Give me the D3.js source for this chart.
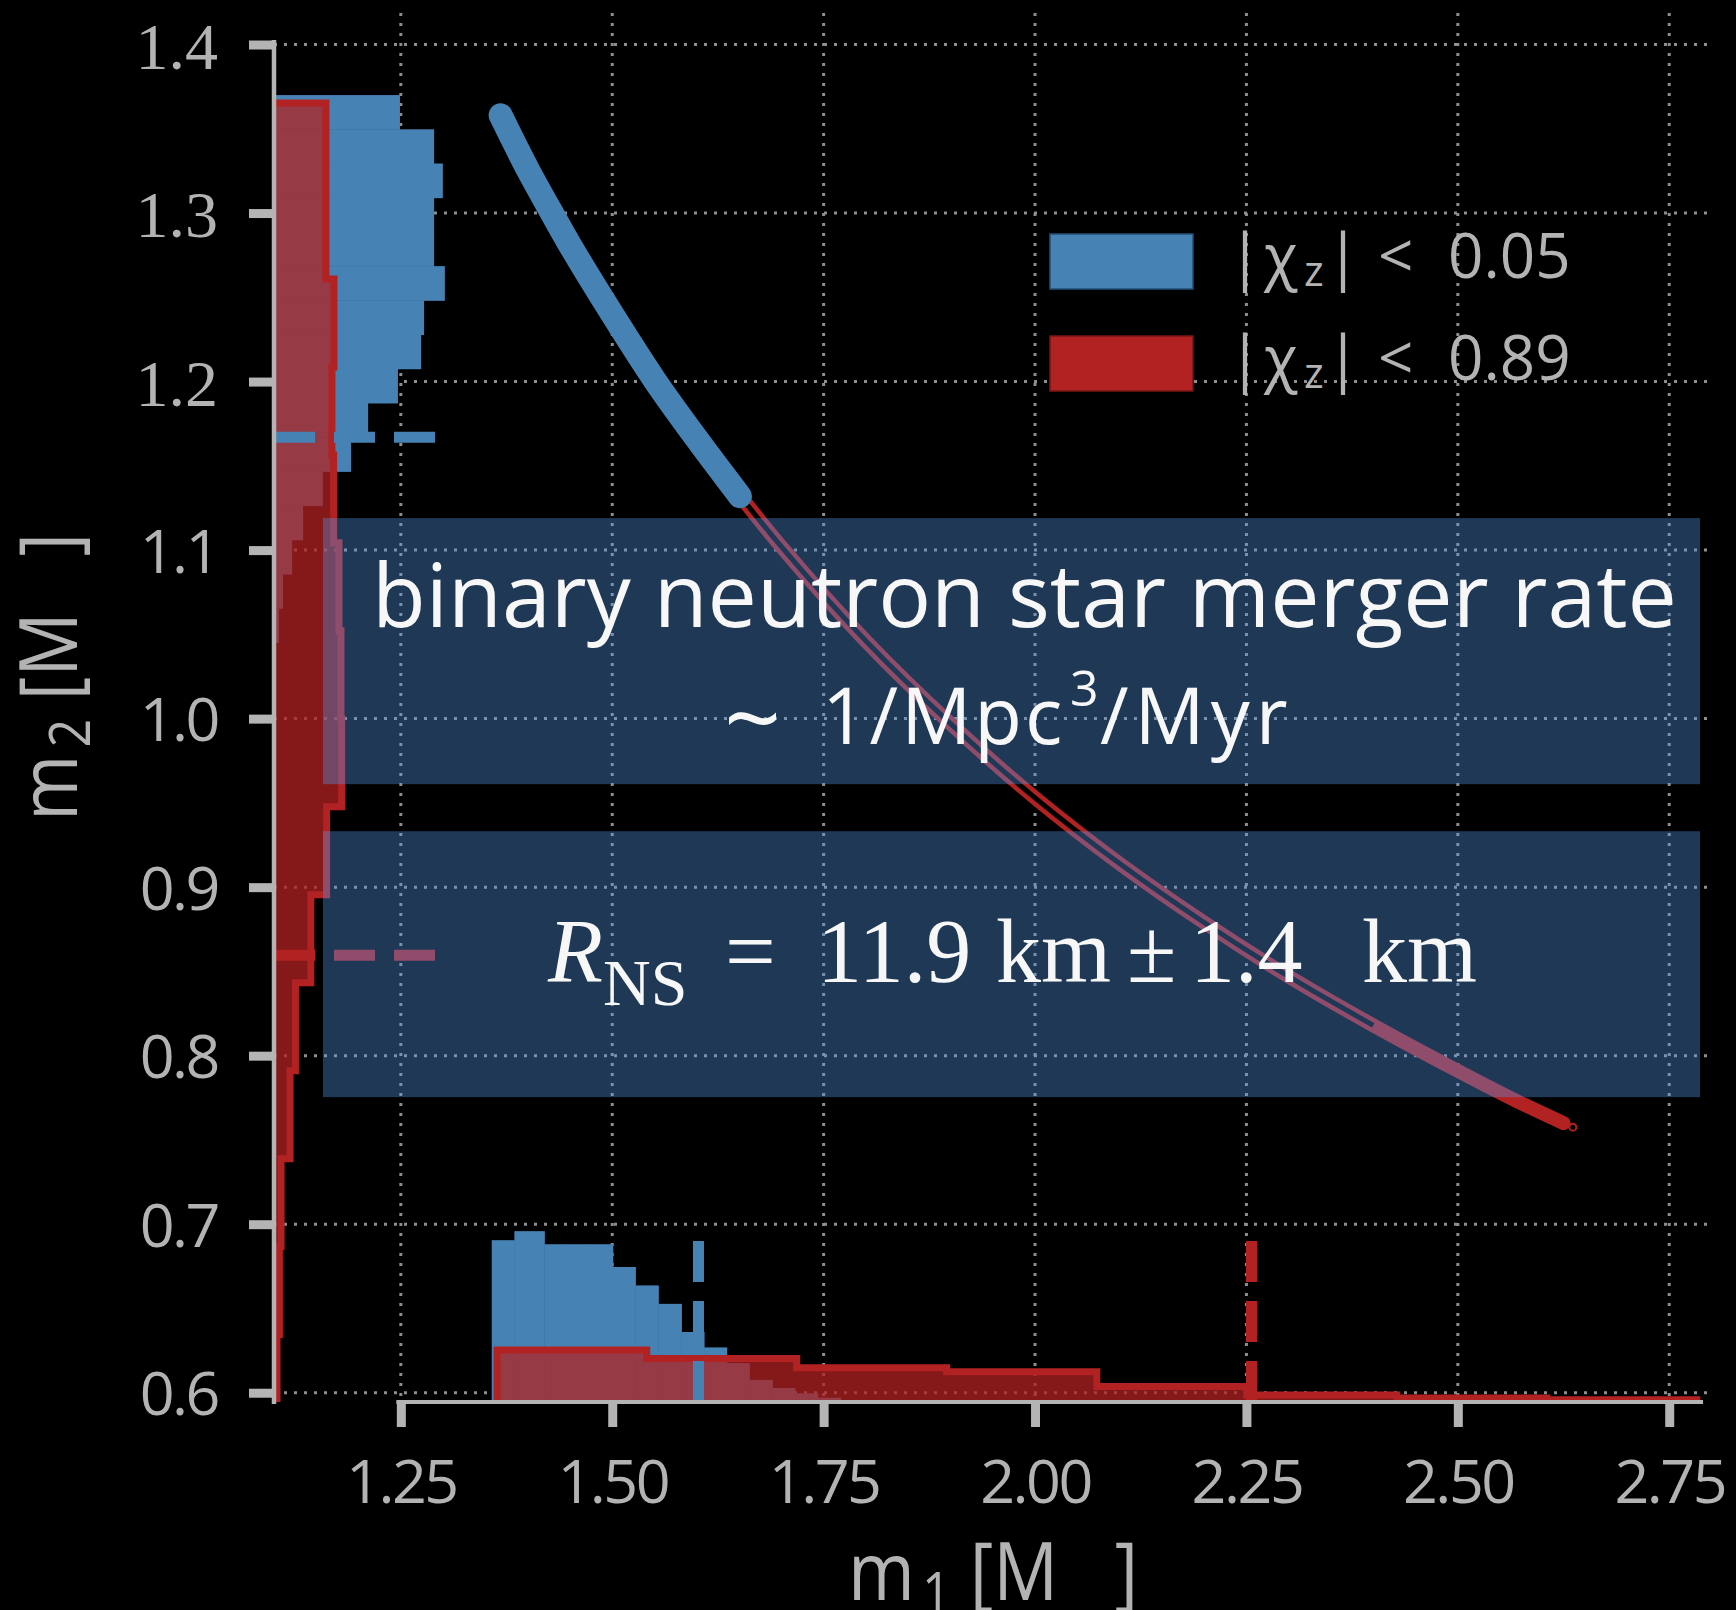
<!DOCTYPE html>
<html><head><meta charset="utf-8">
<script src="https://cdn.jsdelivr.net/npm/d3@7/dist/d3.min.js"></script>
<style>
html,body{margin:0;padding:0;background:#000;}
svg{display:block;}
</style></head><body>
<svg id="chart" width="1736" height="1610"></svg>
<script>
// ---------------- data ----------------
const m1Domain = [1.1, 2.8];
const m2Domain = [0.5945, 1.4187];
const xTicks = [1.25, 1.50, 1.75, 2.00, 2.25, 2.50, 2.75];
const yTicks = [0.6, 0.7, 0.8, 0.9, 1.0, 1.1, 1.2, 1.3, 1.4];
const seriesNames = ["\u03c7", "\u03c7"];
const seriesBounds = ["0.05", "0.89"];

// marginal of m1, |chi_z| < 0.05 (probability density)
const m1BlueEdges = [1.3575,1.3843,1.4197,1.4465,1.4737,1.5006,1.5274,1.5545,1.5818,1.6086,1.6354,1.6622,1.6894,1.7162,1.7430,1.7702,1.7970];
const m1BlueDensity = [4.83,5.10,4.71,4.71,4.71,4.03,3.48,2.93,2.09,1.63,1.16,0.66,0.42,0.26,0.13,0.06];
// marginal of m1, |chi_z| < 0.89
const m1RedEdges = [1.3638,1.5408,1.7182,1.8956,2.0730,2.2504,2.4278,2.6052,2.7826];
const m1RedDensity = [1.55,1.30,1.02,0.90,0.46,0.21,0.12,0.07];
// marginal of m2, |chi_z| < 0.05 (edges from top to bottom)
const m2BlueEdges = [1.3700,1.3497,1.3294,1.3091,1.2888,1.2685,1.2482,1.2279,1.2076,1.1873,1.1670,1.1467,1.1264,1.1061,1.0858,1.0655,1.0452,1.0249];
const m2BlueDensity = [3.76,4.78,5.04,4.78,4.78,5.10,4.48,4.39,3.70,2.81,2.30,1.46,0.87,0.54,0.27,0.15,0.06];
// marginal of m2, |chi_z| < 0.89
const m2RedEdges = [1.3653,1.3131,1.2609,1.2087,1.1565,1.1043,1.0521,0.9999,0.9477,0.8955,0.8433,0.7911,0.7389,0.6867,0.6345,0.5823];
const m2RedDensity = [1.55,1.55,1.79,1.73,1.78,1.94,2.00,2.02,1.57,1.10,0.64,0.48,0.21,0.16,0.09];

// 90% bounds (dashed lines)
const boundM1 = [1.602, 2.256];
const boundM2 = [1.167, 0.8596];
const boundDensity = 4.806;

// posterior samples along the chirp-mass curve (m1, m2)
const curveBlue = [[1.368,1.358],[1.400,1.326],[1.4264,1.302],[1.450,1.281],[1.500,1.240],[1.550,1.201],[1.600,1.166],[1.651,1.132]];
const curveRed = [[1.625,1.149],[1.700,1.102],[1.800,1.046],[1.900,0.997],[2.000,0.953],[2.100,0.914],[2.200,0.879],[2.300,0.847],[2.400,0.818],[2.500,0.791],[2.570,0.773],[2.625,0.760]];
const redOutlier = [[2.636,0.7576]];

// annotation boxes in data units [m1 left, m1 right, m2 top, m2 bottom]
const box1 = [1.1579, 2.7864, 1.1190, 0.9611];
const box2 = [1.1579, 2.7864, 0.9332, 0.7754];

// ---------------- drawing ----------------
const W = 1736, H = 1610;
const BLUE = "#4682b4", RED = "#b22222";
const GREY = "#b3b3b3";
const SANS = "'Open Sans', 'Noto Sans', Lato, sans-serif";
const SERIF = "'Liberation Serif', 'DejaVu Serif', serif";

const svg = d3.select("#chart");
svg.append("rect").attr("width", W).attr("height", H).attr("fill", "#000");

const x = d3.scaleLinear().domain(m1Domain).range([274, 1711.5]);
const y = d3.scaleLinear().domain(m2Domain).range([1402, 13]);
const dens = d3.scaleLinear().domain([0, 1]).range([0, 33.5]);
const x0 = x(m1Domain[0]), yb = y(m2Domain[0]), yt = y(m2Domain[1]), xr = x(m1Domain[1]);

svg.append("clipPath").attr("id", "ax").append("rect")
  .attr("x", x0).attr("y", yt).attr("width", xr - x0).attr("height", yb - yt);

// grid
const grid = svg.append("g").attr("stroke", "#8e8e8e").attr("stroke-width", 3).attr("stroke-dasharray", "3,7");
grid.selectAll("line.gv").data(xTicks).join("line").attr("class", "gv")
  .attr("x1", d => x(d)).attr("x2", d => x(d)).attr("y1", yt).attr("y2", yb);
grid.selectAll("line.gh").data(yTicks).join("line").attr("class", "gh")
  .attr("x1", x0).attr("x2", xr).attr("y1", d => y(d)).attr("y2", d => y(d));

const hist = svg.append("g").attr("clip-path", "url(#ax)");

// blue marginals
hist.selectAll("rect.bm2").data(m2BlueDensity).join("rect").attr("class", "bm2")
  .attr("x", x0).attr("y", (d, i) => y(m2BlueEdges[i]))
  .attr("width", d => dens(d))
  .attr("height", (d, i) => y(m2BlueEdges[i + 1]) - y(m2BlueEdges[i]) + 0.5)
  .attr("fill", BLUE);
hist.selectAll("rect.bm1").data(m1BlueDensity).join("rect").attr("class", "bm1")
  .attr("x", (d, i) => x(m1BlueEdges[i])).attr("y", d => yb - dens(d))
  .attr("width", (d, i) => x(m1BlueEdges[i + 1]) - x(m1BlueEdges[i]) + 0.5)
  .attr("height", d => dens(d))
  .attr("fill", BLUE);

// red marginals (step outline + translucent fill)
const stepM2 = [[x0, y(m2RedEdges[0])]];
m2RedDensity.forEach((d, i) => {
  stepM2.push([x0 + dens(d), y(m2RedEdges[i])]);
  stepM2.push([x0 + dens(d), y(m2RedEdges[i + 1])]);
});
const fillM2 = stepM2.concat([[x0, y(m2RedEdges[m2RedEdges.length - 1])]]);
const stepM1 = [[x(m1RedEdges[0]), yb]];
m1RedDensity.forEach((d, i) => {
  stepM1.push([x(m1RedEdges[i]), yb - dens(d)]);
  stepM1.push([x(m1RedEdges[i + 1]), yb - dens(d)]);
});
stepM1.push([x(m1RedEdges[m1RedEdges.length - 1]), yb]);

const lineGen = d3.line();
hist.append("path").attr("d", lineGen(fillM2) + "Z").attr("fill", RED).attr("fill-opacity", 0.75);
hist.append("path").attr("d", lineGen(stepM1) + "Z").attr("fill", RED).attr("fill-opacity", 0.75);
hist.append("path").attr("d", lineGen(stepM2)).attr("fill", "none").attr("stroke", RED).attr("stroke-width", 7);
hist.append("path").attr("d", lineGen(stepM1)).attr("fill", "none").attr("stroke", RED).attr("stroke-width", 7);

// dashed bound lines
const dashCol = [BLUE, RED];
hist.selectAll("line.dv").data(boundM1).join("line").attr("class", "dv")
  .attr("x1", d => x(d)).attr("x2", d => x(d)).attr("y1", yb).attr("y2", yb - dens(boundDensity))
  .attr("stroke", (d, i) => dashCol[i]).attr("stroke-width", 11).attr("stroke-dasharray", "41,19");
hist.selectAll("line.dh").data(boundM2).join("line").attr("class", "dh")
  .attr("x1", x0).attr("x2", x0 + dens(boundDensity)).attr("y1", d => y(d)).attr("y2", d => y(d))
  .attr("stroke", (d, i) => dashCol[i]).attr("stroke-width", 11).attr("stroke-dasharray", "41,19");

// curves
const cLine = d3.line().x(d => x(d[0])).y(d => y(d[1])).curve(d3.curveCatmullRom);
hist.append("path").attr("d", cLine(curveRed)).attr("fill", "none")
  .attr("stroke", RED).attr("stroke-width", 14).attr("stroke-linecap", "round");
hist.append("path").attr("d", cLine(curveRed.filter(d => d[0] <= 2.40))).attr("fill", "none")
  .attr("stroke", "#000").attr("stroke-width", 5).attr("stroke-linecap", "butt");
hist.selectAll("circle.out").data(redOutlier).join("circle").attr("class", "out")
  .attr("cx", d => x(d[0])).attr("cy", d => y(d[1])).attr("r", 3.5)
  .attr("fill", "none").attr("stroke", RED).attr("stroke-width", 2);
hist.append("path").attr("d", cLine(curveBlue)).attr("fill", "none")
  .attr("stroke", BLUE).attr("stroke-width", 24).attr("stroke-linecap", "round");

// axes
const yAxis = d3.axisLeft(y).tickValues(yTicks).tickSize(25).tickPadding(31).tickFormat(d3.format(".1f"));
const gy = svg.append("g").attr("transform", `translate(${x0},0)`).call(yAxis);
gy.select(".domain").remove();
gy.selectAll(".tick line").attr("stroke", "#b4b4b4").attr("stroke-width", 9);
gy.selectAll(".tick text").attr("fill", GREY)
  .attr("font-family", d => d >= 1.2 ? SERIF : SANS)
  .attr("font-size", d => d >= 1.2 ? 66 : 61)
  .attr("letter-spacing", d => d >= 1.2 ? "0px" : "-2.5px")
  .attr("dy", "0.36em");

const xAxis = d3.axisBottom(x).tickValues(xTicks).tickSize(25).tickFormat(d3.format(".2f"));
const gx = svg.append("g").attr("transform", `translate(0,${yb})`).call(xAxis);
gx.select(".domain").remove();
gx.selectAll(".tick line").attr("stroke", "#b4b4b4").attr("stroke-width", 9);
gx.selectAll(".tick text").attr("fill", GREY).attr("font-family", SANS).attr("font-size", 61)
  .attr("letter-spacing", "-2.5px").attr("y", 79).attr("dy", "0.36em");

// spines
svg.append("line").attr("x1", x0).attr("x2", x0).attr("y1", y(1.4) - 4.5).attr("y2", yb + 2)
  .attr("stroke", "#b4b4b4").attr("stroke-width", 4.5);
svg.append("line").attr("x1", x(1.25) - 4.5).attr("x2", x(2.79)).attr("y1", yb).attr("y2", yb)
  .attr("stroke", "#b4b4b4").attr("stroke-width", 4);

// axis labels
const yl = svg.append("text").attr("transform", "translate(77,677) rotate(-90)")
  .attr("text-anchor", "middle").attr("font-family", SANS).attr("font-size", 80).attr("fill", GREY)
  .attr("textLength", 288).attr("lengthAdjust", "spacingAndGlyphs");
yl.append("tspan").text("m");
yl.append("tspan").attr("font-size", 56).attr("dx", 8).attr("dy", 13).text("2");
yl.append("tspan").attr("dy", -13).text("\u00a0[M\u00a0\u00a0\u00a0]");
const xl = svg.append("text").attr("x", 993).attr("y", 1600)
  .attr("text-anchor", "middle").attr("font-family", SANS).attr("font-size", 80).attr("fill", GREY)
  .attr("textLength", 290).attr("lengthAdjust", "spacingAndGlyphs");
xl.append("tspan").text("m");
xl.append("tspan").attr("font-size", 56).attr("dx", 8).attr("dy", 13).text("1");
xl.append("tspan").attr("dy", -13).text("\u00a0[M\u00a0\u00a0\u00a0]");

// annotation boxes
[box1, box2].forEach(b => {
  svg.append("rect").attr("x", x(b[0])).attr("y", y(b[2]))
    .attr("width", x(b[1]) - x(b[0])).attr("height", y(b[3]) - y(b[2]))
    .attr("fill", "rgb(82,153,236)").attr("fill-opacity", 0.365);
});

svg.append("text").attr("x", 372).attr("y", 627).attr("font-family", SANS).attr("font-size", 88)
  .attr("fill", "#f7f7f7").attr("textLength", 1305).attr("lengthAdjust", "spacingAndGlyphs")
  .text("binary neutron star merger rate");

svg.append("text").attr("x", 724).attr("y", 754).attr("font-family", SANS).attr("font-size", 100)
  .attr("fill", "#f7f7f7").text("~");
const t2 = svg.append("text").attr("y", 744).attr("font-family", SANS).attr("font-size", 78).attr("fill", "#f7f7f7");
t2.append("tspan").attr("x", 822).attr("letter-spacing", "3px").text("1/Mpc");
t2.append("tspan").attr("x", 1070).attr("dy", -38).attr("font-size", 50).text("3");
t2.append("tspan").attr("x", 1100).attr("dy", 38).attr("letter-spacing", "6px").text("/Myr");

const t3 = svg.append("text").attr("y", 982).attr("font-family", SERIF).attr("font-size", 90).attr("fill", "#f7f7f7");
t3.append("tspan").attr("x", 548).attr("font-style", "italic").text("R");
t3.append("tspan").attr("x", 603).attr("dy", 23).attr("font-size", 66).text("NS");
t3.append("tspan").attr("x", 725).attr("dy", -23).text("=");
t3.append("tspan").attr("x", 817).text("11.9");
t3.append("tspan").attr("x", 996).text("km");
t3.append("tspan").attr("x", 1127).text("\u00b1");
t3.append("tspan").attr("x", 1190).text("1.4");
t3.append("tspan").attr("x", 1362).text("km");

// legend
const legY = [234, 336];
const legCol = [BLUE, RED];
const legStroke = ["#1f4f78", "#7a1414"];
const leg = svg.append("g");
legY.forEach((ly, i) => {
  leg.append("rect").attr("x", 1050).attr("y", ly).attr("width", 143).attr("height", 55)
    .attr("fill", legCol[i]).attr("stroke", legStroke[i]).attr("stroke-width", 1.5);
  const t = leg.append("text").attr("y", ly + 44).attr("font-family", SANS).attr("font-size", 62).attr("fill", GREY);
  t.append("tspan").attr("x", 1228).text("|");
  t.append("tspan").attr("x", 1264).text(seriesNames[i]);
  t.append("tspan").attr("x", 1304).attr("dy", 8).attr("font-size", 42).text("z");
  t.append("tspan").attr("x", 1326).attr("dy", -8).text("|");
  t.append("tspan").attr("x", 1378).text("<");
  t.append("tspan").attr("x", 1448).text(seriesBounds[i]);
});
</script>
</body></html>
